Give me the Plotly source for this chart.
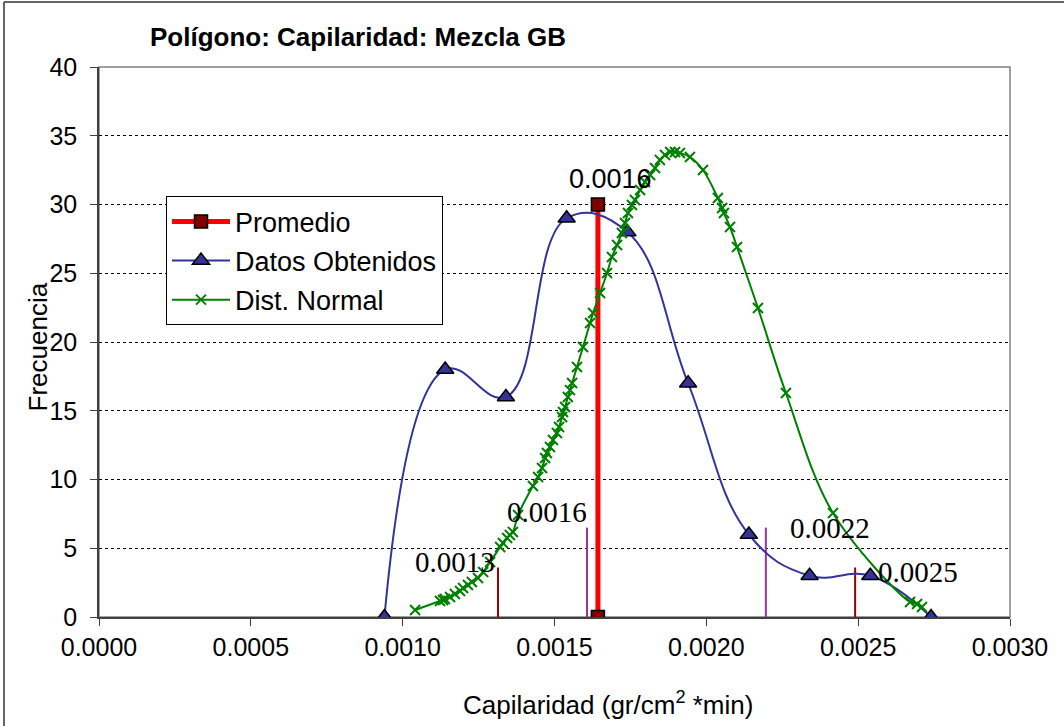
import plotly.graph_objects as go

# Observed frequencies per class mark (Datos Obtenidos)
class_marks = [0.00094, 0.00114, 0.00134, 0.00154, 0.00174,
               0.00194, 0.00214, 0.00234, 0.00254, 0.00274]
frequencies = [0, 18, 16, 29, 28, 17, 6, 3, 3, 0]

# Mean of the sample (Promedio)
mean_x = [0.001643, 0.001643]
mean_y = [0, 30]

# Normal distribution evaluated at each sample value (Dist. Normal)
normal_x = [0.001041, 0.001123, 0.001133, 0.001139, 0.001156, 0.001172, 0.001189,
            0.001199, 0.001215, 0.001228, 0.001248, 0.001265, 0.001288, 0.001321,
            0.001330, 0.001344, 0.001353, 0.001363, 0.001380, 0.001429, 0.001446,
            0.001459, 0.001469, 0.001475, 0.001485, 0.001495, 0.001508, 0.001515,
            0.001525, 0.001528, 0.001535, 0.001544, 0.001551, 0.001558, 0.001574,
            0.001594, 0.001617, 0.001627, 0.001650, 0.001673, 0.001689, 0.001706,
            0.001722, 0.001732, 0.001742, 0.001755, 0.001765, 0.001782, 0.001798,
            0.001815, 0.001831, 0.001847, 0.001864, 0.001881, 0.001897, 0.001913,
            0.001946, 0.001989, 0.002038, 0.002052, 0.002058, 0.002078, 0.002101,
            0.002170, 0.002262, 0.002417, 0.002671, 0.002694, 0.002710]
normal_y = [0.51, 1.16, 1.24, 1.31, 1.45, 1.67, 1.89,
            2.11, 2.33, 2.55, 2.84, 3.27, 4.00, 5.09,
            5.38, 5.75, 5.96, 6.18, 7.42, 9.53, 10.18,
            10.84, 11.56, 11.93, 12.36, 12.87, 13.38, 13.82,
            14.55, 14.91, 15.27, 16.00, 16.50, 17.02, 18.18,
            19.64, 21.38, 22.11, 23.56, 25.02, 26.18, 27.05,
            27.93, 28.65, 29.38, 29.96, 30.33, 31.05, 31.64,
            32.15, 32.65, 33.24, 33.60, 33.82, 33.82, 33.75,
            33.45, 32.51, 30.47, 29.75, 29.38, 28.36, 26.91,
            22.47, 16.29, 7.56, 1.09, 0.95, 0.73]

# Reference limits: one and two standard deviations around the normal centre
sigma1_x = [0.001607, 0.002196]
sigma1_h = [6.5, 6.5]
sigma2_x = [0.001314, 0.002490]
sigma2_h = [3.6, 3.6]

x_ticks = [0.0, 0.0005, 0.0010, 0.0015, 0.0020, 0.0025, 0.0030]
y_ticks = [0, 5, 10, 15, 20, 25, 30, 35, 40]

SANS = "Liberation Sans, Arial, sans-serif"
SERIF = "Liberation Serif, Times New Roman, serif"
PURPLE = "#993399"
DARKRED = "#990000"

fig = go.Figure()

# Thin vertical limit lines
for xs, hs, col in [(sigma2_x, sigma2_h, DARKRED), (sigma1_x, sigma1_h, PURPLE)]:
    for xv, hv in zip(xs, hs):
        fig.add_trace(go.Scatter(
            x=[xv, xv], y=[0, hv], mode="lines",
            line=dict(color=col, width=2), showlegend=False, hoverinfo="skip"))

fig.add_trace(go.Scatter(
    x=mean_x, y=mean_y, name="Promedio", mode="lines+markers",
    legendgroup="a", legendrank=1,
    line=dict(color="#FF0000", width=5),
    marker=dict(symbol="square", size=13, color="#800000",
                line=dict(color="black", width=1.5))))

fig.add_trace(go.Scatter(
    x=class_marks, y=frequencies, name="Datos Obtenidos", mode="lines+markers",
    legendgroup="b", legendrank=2,
    line=dict(color="#333399", width=2, shape="spline", smoothing=1.2),
    marker=dict(symbol="triangle-up", size=15, color="#333399",
                line=dict(color="black", width=1.5))))

fig.add_trace(go.Scatter(
    x=normal_x, y=normal_y, name="Dist. Normal", mode="lines+markers",
    legendgroup="c", legendrank=3,
    line=dict(color="#008000", width=2, shape="spline", smoothing=1.0),
    marker=dict(symbol="x-thin", size=10, color="#008000",
                line=dict(color="#008000", width=2))))

annotations = []
# Value labels on the limit lines
label_specs = [
    (sigma2_x[0], sigma2_h[0], "right", -1, 6),
    (sigma1_x[0], sigma1_h[0], "right", 2, 16),
    (sigma1_x[1], sigma1_h[1], "left", 22, 0),
    (sigma2_x[1], sigma2_h[1], "left", 21, -4),
]
for xv, yv, anchor, dx, dy in label_specs:
    annotations.append(dict(
        x=xv, y=yv, xref="x", yref="y", text=f"{xv:.4f}", showarrow=False,
        xanchor=anchor, yanchor="middle", xshift=dx, yshift=dy,
        font=dict(family=SERIF, size=29, color="black")))

# Label on the mean
annotations.append(dict(
    x=mean_x[1], y=mean_y[1], xref="x", yref="y", text=f"{mean_x[1]:.4f}",
    showarrow=False, xanchor="center", yanchor="bottom", xshift=13, yshift=9,
    font=dict(family=SANS, size=27, color="black")))

# Axis titles
annotations.append(dict(
    x=(608 - 99) / 911, y=-0.158, xref="paper", yref="paper",
    text="Capilaridad (gr/cm<sup>2</sup> *min)", showarrow=False,
    xanchor="center", yanchor="middle",
    font=dict(family=SANS, size=26, color="black")))
annotations.append(dict(
    x=(37 - 99) / 911, y=0.49, xref="paper", yref="paper",
    text="Frecuencia", textangle=-90, showarrow=False,
    xanchor="center", yanchor="middle",
    font=dict(family=SANS, size=26, color="black")))

shapes = [
    # plot-area frame
    dict(type="rect", xref="paper", yref="paper", x0=0, y0=0, x1=1, y1=1,
         line=dict(color="#808080", width=1.5), layer="below"),
    # outer chart border (top and left edges)
    dict(type="line", xref="paper", yref="paper",
         x0=(4 - 99) / 911, x1=(1064 - 99) / 911,
         y0=(617 - 3) / 549.2, y1=(617 - 3) / 549.2,
         line=dict(color="#333333", width=1.5)),
    dict(type="line", xref="paper", yref="paper",
         x0=(4 - 99) / 911, x1=(4 - 99) / 911,
         y0=(617 - 3) / 549.2, y1=(617 - 726) / 549.2,
         line=dict(color="#333333", width=1.5)),
]

fig.update_layout(
    width=1064, height=726,
    margin=dict(l=99, r=54, t=67, b=109, pad=0),
    paper_bgcolor="white", plot_bgcolor="white",
    font=dict(family=SANS, size=25, color="black"),
    title=dict(text="<b>Polígono: Capilaridad: Mezcla GB</b>",
               x=150 / 1064, xanchor="left", y=1 - 37 / 726, yanchor="middle",
               font=dict(family=SANS, size=26, color="black")),
    showlegend=True,
    legend=dict(x=(166 - 99) / 911, y=(617 - 197) / 549.2,
                xanchor="left", yanchor="top",
                bgcolor="white", bordercolor="black", borderwidth=1,
                font=dict(family=SANS, size=27, color="black"),
                itemwidth=58, tracegroupgap=1, traceorder="grouped"),
    xaxis=dict(range=[0, 0.003], tickvals=x_ticks,
               ticktext=[f"{v:.4f}" for v in x_ticks],
               showgrid=False, zeroline=False,
               showline=True, linecolor="#404040", linewidth=1.5,
               ticks="outside", ticklen=7, tickcolor="#404040",
               tickfont=dict(family=SANS, size=25, color="black")),
    yaxis=dict(range=[0, 40], tickvals=y_ticks,
               showgrid=True, gridcolor="black", griddash="dot", gridwidth=1,
               zeroline=False,
               showline=True, linecolor="#404040", linewidth=1.5,
               ticks="outside", ticklen=7, tickcolor="#404040",
               ticklabelstandoff=8,
               tickfont=dict(family=SANS, size=25, color="black")),
    annotations=annotations,
    shapes=shapes,
)

fig.write_html("out.html")
